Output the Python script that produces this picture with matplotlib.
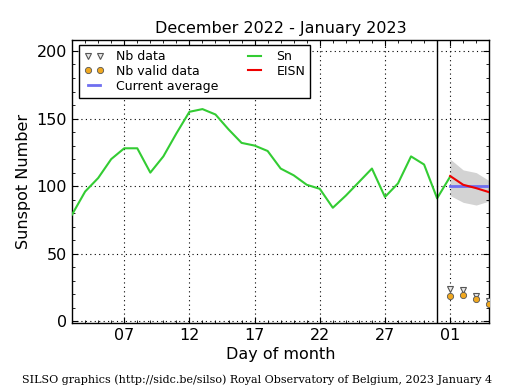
import matplotlib
matplotlib.use("Agg")
import matplotlib.pyplot as plt
from matplotlib.ticker import MultipleLocator, FixedLocator

# Daily total sunspot number Sn (Dec 3 .. Jan 1), x = day index (Dec d -> d, Jan d -> 31+d)
sn_days = list(range(3, 33))
sn_vals = [79, 96, 106, 120, 128, 128, 110, 122, 139, 155, 157, 153, 142, 132, 130,
           126, 113, 108, 101, 98, 84, 93, 103, 113, 92, 102, 122, 116, 91, 107]

# Estimated ISN (Jan 1 .. Jan 4)
eisn_days = [32, 33, 34, 35]
eisn_vals = [107.5, 101, 98.5, 95.5]
eisn_upper = [120, 112, 110, 104]
eisn_lower = [93, 88, 86, 89]

# Current average
avg_days = [32, 35]
avg_val = 100.4

# Number of stations
nb_data = [24, 23, 19, 15]
nb_valid = [18.5, 19.7, 16.8, 12.8]

tick_pos = [7, 12, 17, 22, 27, 32]
tick_labels = ["07", "12", "17", "22", "27", "01"]
month_boundary = 31

fig = plt.figure(figsize=(5.15, 3.9), dpi=100)
ax = fig.add_axes([0.140, 0.171, 0.810, 0.726])

ax.fill_between(eisn_days, eisn_lower, eisn_upper, color="#d3d3d3", lw=0, zorder=1)
ax.plot(sn_days, sn_vals, color="#33cc33", lw=1.5, label="Sn", zorder=3)
ax.plot(eisn_days, eisn_vals, color="#ee0000", lw=1.5, label="EISN", zorder=4)
ax.plot(avg_days, [avg_val, avg_val], color="#6f6ff0", lw=2, label="Current average", zorder=3)
ax.plot(eisn_days, nb_data, ls="none", marker="v", ms=4.5, mfc="#e8e8e8", mec="#555555",
        mew=0.8, label="Nb data", zorder=5)
ax.plot(eisn_days, nb_valid, ls="none", marker="o", ms=4.5, mfc="#f0a820", mec="#555555",
        mew=0.6, label="Nb valid data", zorder=6)
ax.axvline(month_boundary, color="black", lw=1.0, zorder=4)

ax.set_xlim(3, 35)
ax.set_ylim(-1.5, 208)
ax.xaxis.set_major_locator(FixedLocator(tick_pos))
ax.set_xticklabels(tick_labels)
ax.xaxis.set_minor_locator(MultipleLocator(1))
ax.yaxis.set_major_locator(MultipleLocator(50))
ax.yaxis.set_minor_locator(MultipleLocator(10))
ax.tick_params(which="both", direction="in", top=True, right=True, labelsize=11.5)
ax.tick_params(which="major", length=4, width=0.8)
ax.tick_params(which="minor", length=2, width=0.6)
ax.grid(True, which="major", color="black", ls=(0, (1, 3)), lw=0.8)
for s in ax.spines.values():
    s.set_linewidth(1.0)

ax.set_title("December 2022 - January 2023", fontsize=11.5, pad=5)
ax.set_xlabel("Day of month", fontsize=11.5, labelpad=3)
ax.set_ylabel("Sunspot Number", fontsize=11.5, labelpad=4)

handles, labels = ax.get_legend_handles_labels()
order = ["Nb data", "Nb valid data", "Current average", "Sn", "EISN"]
hmap = dict(zip(labels, handles))
leg = ax.legend([hmap[k] for k in order], order, loc="upper left",
                bbox_to_anchor=(0.0165, 0.983), borderaxespad=0, ncol=2, fontsize=9,
                frameon=True, fancybox=False, edgecolor="black", framealpha=1,
                handlelength=1.6, handletextpad=0.95, columnspacing=2.1,
                labelspacing=0.15, numpoints=2, borderpad=0.4)
leg.get_frame().set_linewidth(1.0)

fig.text(0.5, 0.012, "SILSO graphics (http://sidc.be/silso) Royal Observatory of Belgium, 2023 January 4",
         ha="center", va="bottom", fontsize=8, family="DejaVu Serif")

fig.savefig("out.png", dpi=100)
